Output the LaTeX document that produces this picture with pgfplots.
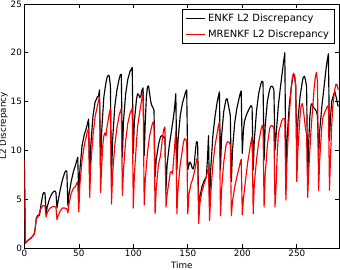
\documentclass[border=0pt]{standalone}
\usepackage{fontspec}
\setmainfont{DejaVu Sans}
\usepackage{pgfplots}
\pgfplotsset{compat=1.18}
\begin{document}
\begin{tikzpicture}
\useasboundingbox (-24.3bp,-22bp) rectangle (315.7bp,248bp);
\begin{axis}[
 at={(0,0)}, anchor=south west,
 scale only axis,
 width=315bp, height=244bp,
 xmin=0, xmax=289, ymin=0, ymax=25,
 xtick={0,50,...,250}, ytick={0,5,...,25},
 tick align=inside,
 major tick length=4bp,
 /pgf/number format/assume math mode=true,
 tick label style={font=\fontsize{8.8}{10}\selectfont},
 xticklabel style={inner sep=2bp},
 yticklabel style={inner sep=2.2bp},
 xlabel={Time}, ylabel={L2 Discrepancy},
 label style={font=\fontsize{8.8}{10}\selectfont},
 xlabel style={at={(axis description cs:0.5,-0.082)}, anchor=base},
 ylabel style={at={(axis description cs:-0.066,0.5)}, anchor=center},
 axis line style={line width=0.8pt},
 every tick/.style={black, line width=0.6pt},
 legend cell align=left,
 legend style={at={(rel axis cs:0.986,0.978)}, anchor=north east,
   font=\fontsize{10}{11}\selectfont, draw=black, line width=0.6pt,
   inner xsep=3bp, inner ysep=2bp, row sep=1.5bp,
   nodes={inner sep=2.5bp}},
 legend image code/.code={\draw[#1] (0bp,0bp) -- (19bp,0bp);},
]
\addplot[black, line width=1.15pt, line join=round] coordinates {
(0,9.0)(1,0.5)(3,0.75)(6,1.0)(9,1.4)(10,2.0)(11,3.0)(12,3.3)(14,3.35)(15,4.2)(17,5.5)(18,5.7)(19,5.6)(20,3.5)(21,4.2)(23,5.0)(25,5.5)(27,5.8)(28,5.85)(29,5.7)(30,4.1)(31,4.8)(33,6.0)(35,7.0)(37,7.7)(38,7.9)(39,7.9)(40,4.3)(41,5.5)(43,6.8)(45,7.8)(47,8.5)(48,8.9)(49,9.3)(50,5.5)(51,8.0)(53,10.5)(55,11.6)(57,12.3)(58,12.8)(59,13.2)(60,6.9)(61,10.5)(63,13.5)(65,15.0)(66,15.2)(67,15.5)(68,15.5)(69,16.2)(70,8.3)(71,12.0)(73,15.5)(75,17.0)(76,17.5)(77,17.7)(78,17.6)(79,16.6)(80,7.0)(81,11.0)(83,14.5)(85,16.2)(87,17.3)(88,17.7)(89,17.8)(90,9.3)(91,13.0)(93,15.8)(95,17.3)(97,18.1)(98,18.3)(99,18.5)(100,9.7)(101,13.0)(103,15.3)(104,15.8)(105,15.7)(106,15.4)(107,15.6)(108,16.2)(109,16.4)(110,9.5)(111,13.0)(112,15.5)(113,16.5)(114,16.6)(115,15.8)(116,15.0)(117,14.6)(118,14.4)(119,14.1)(120,7.3)(121,9.0)(123,10.5)(124,11.0)(125,11.4)(126,11.5)(127,11.5)(128,11.3)(129,11.4)(130,6.0)(131,8.5)(133,10.5)(135,12.0)(137,13.5)(138,14.5)(139,15.8)(140,8.0)(141,11.0)(143,13.5)(145,14.8)(147,15.6)(148,16.0)(149,16.2)(150,8.0)(151,8.5)(152,8.8)(153,8.6)(154,8.2)(155,8.1)(156,8.6)(157,10.0)(158,10.9)(159,10.8)(160,4.3)(161,5.2)(163,6.3)(165,6.9)(166,7.1)(167,7.3)(168,9.0)(169,11.5)(170,4.5)(171,8.0)(173,11.5)(175,13.5)(177,15.0)(178,15.5)(179,16.0)(180,8.0)(181,11.5)(183,14.0)(185,15.2)(186,15.3)(187,14.8)(188,14.2)(189,13.6)(190,6.8)(191,10.0)(193,12.8)(195,14.3)(197,15.3)(198,15.8)(199,16.1)(200,9.7)(201,12.0)(202,13.0)(204,13.7)(206,14.2)(208,14.6)(209,14.4)(210,8.0)(211,11.0)(213,14.0)(215,15.8)(217,16.8)(218,17.1)(219,17.0)(220,9.0)(221,12.5)(223,15.0)(225,16.2)(226,16.5)(227,16.6)(228,16.5)(229,16.2)(230,10.0)(231,11.5)(233,14.5)(235,16.5)(237,18.3)(238,19.2)(239,20.0)(240,7.6)(241,11.0)(243,14.5)(245,16.5)(246,17.3)(247,17.8)(248,17.6)(249,16.5)(250,10.0)(251,13.0)(253,15.5)(255,17.0)(256,17.5)(257,17.6)(258,17.2)(259,16.5)(260,7.0)(261,11.0)(262,13.5)(263,14.6)(264,14.8)(265,14.5)(266,14.3)(267,14.2)(268,14.0)(269,13.5)(270,9.3)(271,12.0)(273,14.5)(275,16.5)(277,18.5)(278,19.3)(279,19.9)(280,11.0)(281,13.5)(282,15.0)(283,15.4)(284,15.8)(285,16.0)(286,15.5)(287,15.0)(288,14.5)
};
\addlegendentry{ENKF L2 Discrepancy}
\addplot[red, line width=1.15pt, line join=round] coordinates {
(0,9.0)(1,0.5)(3,0.75)(6,1.0)(9,1.4)(10,2.0)(11,3.0)(12,3.1)(13,3.3)(15,4.0)(17,4.35)(19,4.3)(20,3.2)(21,3.6)(23,4.0)(25,4.2)(27,4.25)(29,4.2)(30,2.9)(31,3.3)(33,3.8)(35,4.1)(37,4.1)(39,4.0)(40,3.6)(41,4.5)(43,5.6)(45,6.1)(47,6.3)(48,6.6)(49,6.8)(50,3.7)(51,6.5)(53,9.0)(55,10.5)(57,11.5)(58,12.0)(59,12.2)(60,5.2)(61,8.5)(63,11.5)(65,13.5)(67,14.5)(68,15.1)(69,15.5)(70,5.7)(71,8.5)(72,10.5)(73,11.5)(74,11.8)(75,11.5)(76,12.5)(78,13.8)(79,14.3)(80,4.5)(81,7.5)(83,10.5)(85,12.3)(87,13.6)(89,14.3)(90,5.4)(91,8.0)(93,11.0)(95,12.8)(97,13.8)(99,14.3)(100,4.1)(101,7.5)(103,11.0)(104,12.5)(106,14.0)(108,15.4)(109,15.8)(110,4.4)(111,7.0)(113,9.8)(115,11.5)(117,12.5)(118,12.9)(119,12.8)(120,3.5)(121,6.0)(123,8.5)(124,9.0)(125,9.5)(126,10.5)(127,11.5)(128,12.2)(129,12.4)(130,4.2)(131,5.5)(133,7.0)(134,7.8)(135,7.8)(136,7.6)(137,9.0)(138,10.5)(139,12.0)(140,3.5)(141,6.0)(143,8.5)(145,10.0)(146,10.8)(147,11.2)(148,11.1)(149,11.0)(150,3.5)(151,5.5)(153,6.6)(154,6.9)(155,7.3)(157,8.3)(158,9.0)(159,9.3)(160,2.5)(161,4.5)(163,5.8)(165,6.6)(166,6.9)(167,7.3)(168,7.8)(169,8.2)(170,2.8)(171,5.5)(173,8.5)(175,10.5)(177,11.8)(178,12.5)(179,12.9)(180,3.3)(181,6.0)(183,8.8)(185,10.5)(186,10.8)(187,10.9)(188,10.8)(189,10.6)(190,3.3)(191,4.8)(193,6.2)(195,7.3)(197,8.2)(198,8.7)(199,9.1)(200,3.4)(201,5.0)(203,7.0)(205,8.8)(207,10.2)(208,10.9)(209,11.4)(210,3.5)(211,6.5)(213,9.0)(215,10.8)(217,12.0)(218,12.5)(219,12.6)(220,4.2)(221,7.5)(223,10.5)(225,12.2)(226,12.5)(227,12.55)(228,12.5)(229,12.2)(230,4.2)(231,6.3)(232,9.5)(233,11.5)(234,12.2)(235,12.5)(236,13.0)(237,13.2)(238,13.3)(239,13.2)(240,4.9)(241,9.0)(243,13.5)(245,16.5)(246,17.5)(247,17.9)(248,17.7)(249,16.8)(250,6.8)(251,10.0)(253,13.5)(254,14.6)(255,14.8)(256,14.2)(257,13.2)(258,12.2)(259,11.7)(260,5.2)(261,8.0)(263,12.0)(265,15.0)(266,16.5)(267,17.5)(268,18.0)(269,17.0)(270,5.9)(271,9.0)(273,12.5)(274,13.4)(276,14.0)(278,14.5)(279,14.6)(280,5.9)(281,9.5)(282,12.5)(283,14.5)(284,15.5)(285,16.3)(286,16.8)(287,16.7)(288,16.2)
};
\addlegendentry{MRENKF L2 Discrepancy}
\end{axis}
\end{tikzpicture}
\end{document}
